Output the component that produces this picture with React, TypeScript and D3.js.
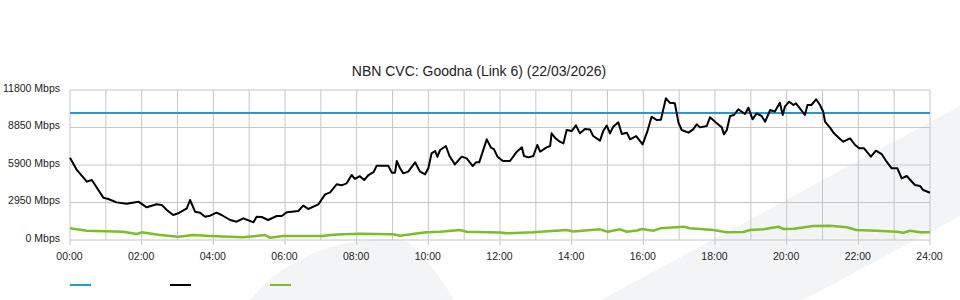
import React from "react";
import * as d3 from "d3";

const TITLE = "NBN CVC: Goodna (Link 6) (22/03/2026)";
const Y_TICKS = [0, 2950, 5900, 8850, 11800];
const X_TICK_HOURS = [0, 2, 4, 6, 8, 10, 12, 14, 16, 18, 20, 22, 24];
const CAPACITY_MBPS = 10000;

// Black series: hours, Mbps
const trafficHours = [
  0.0, 0.19, 0.47, 0.61, 0.93, 1.07, 1.3, 1.58, 1.91, 2.14, 2.42, 2.56, 2.7, 2.88, 3.02, 3.26, 3.35, 3.49, 3.63, 3.77,
  3.91, 4.09, 4.23, 4.47, 4.65, 4.84, 5.12, 5.21, 5.35, 5.53, 5.77, 5.91, 6.05, 6.19, 6.37, 6.51, 6.65, 6.93, 7.12, 7.26,
  7.44, 7.58, 7.72, 7.86, 7.95, 8.09, 8.21, 8.33, 8.47, 8.56, 8.88, 8.98, 9.07, 9.12, 9.21, 9.3, 9.44, 9.63, 9.77, 9.91,
  10.0, 10.09, 10.19, 10.25, 10.33, 10.49, 10.59, 10.74, 10.93, 11.07, 11.24, 11.33, 11.42, 11.63, 11.75, 11.83, 11.93, 12.08, 12.28, 12.47,
  12.61, 12.67, 12.79, 12.93, 13.04, 13.12, 13.3, 13.4, 13.44, 13.55, 13.67, 13.77, 13.86, 14.0, 14.12, 14.23, 14.37, 14.51, 14.6, 14.79,
  14.88, 14.98, 15.07, 15.16, 15.3, 15.4, 15.54, 15.63, 15.8, 15.98, 16.11, 16.23, 16.37, 16.49, 16.63, 16.74, 16.88, 16.98, 17.07, 17.26,
  17.39, 17.49, 17.58, 17.77, 17.86, 18.05, 18.19, 18.25, 18.33, 18.42, 18.53, 18.65, 18.74, 18.84, 18.93, 19.05, 19.16, 19.3, 19.4, 19.54,
  19.67, 19.81, 19.89, 19.95, 20.07, 20.19, 20.26, 20.39, 20.51, 20.58, 20.69, 20.82, 20.93, 21.02, 21.07, 21.21, 21.32, 21.49, 21.58, 21.77,
  21.91, 22.03, 22.16, 22.35, 22.49, 22.65, 22.79, 22.93, 23.09, 23.21, 23.35, 23.58, 23.72, 23.81, 24.0,
];
const trafficMbps = [
  6470, 5510, 4590, 4720, 3330, 3225, 2960, 2860, 3015, 2570, 2810, 2760, 2360, 1967, 2100, 2490, 3147, 2230, 2150, 1836,
  1914, 2150, 1967, 1573, 1443, 1704, 1390, 1836, 1810, 1573, 1888, 1888, 2180, 2230, 2281, 2700, 2438, 2805, 3592, 3750,
  4378, 4300, 4457, 5113, 4800, 5020, 4720, 5113, 5330, 5848, 5848, 5297, 5297, 6215, 5640, 5245, 5375, 6110, 5375, 5165,
  5640, 6817, 7000, 6550, 7080, 7394, 6608, 5952, 6555, 6425, 5820, 6110, 6110, 7918, 7260, 7150, 6555, 6215, 6215, 6946,
  7290, 6610, 6500, 6610, 7473, 6946, 7290, 7394, 8390, 8000, 7733, 7600, 8653, 8570, 9020, 8390, 8730, 8700, 8180, 7813,
  8570, 8995, 8390, 8916, 9257, 8340, 8443, 7918, 8180, 7525, 8520, 9700, 9440, 9460, 11146, 10800, 10750, 9230, 8653, 8443,
  8700, 9100, 8860, 8967, 9650, 9178, 8860, 8312, 8653, 9755, 9833, 10283, 10100, 9912, 10407, 9494, 9965, 9755, 9309, 10227,
  10100, 10800, 9833, 10490, 10880, 10620, 10750, 10283, 9833, 10620, 10620, 11068, 10620, 10093, 9309, 8836, 8390, 7945, 7735, 8000,
  7473, 7210, 7210, 6555, 7026, 6760, 6160, 5640, 5640, 4850, 5035, 4327, 4250, 3933, 3720,
];

// Green series: hours, Mbps
const greenHours = [
  0.0, 0.47, 1.48, 1.86, 2.0, 2.51, 3.02, 3.44, 3.91, 4.83, 5.44, 5.58, 5.94, 7.06, 7.26, 7.62, 8.09, 9.02, 9.21, 9.77,
  9.95, 10.33, 10.88, 11.07, 12.0, 12.19, 12.92, 13.86, 14.05, 14.79, 15.01, 15.35, 15.54, 15.82, 15.95, 16.28, 16.47, 17.12, 17.3, 17.58,
  17.95, 18.33, 18.79, 18.98, 19.35, 19.77, 19.91, 20.19, 20.74, 21.21, 21.68, 21.95, 22.51, 23.07, 23.26, 23.44, 23.72, 24.0,
];
const greenMbps = [
  920, 730, 650, 470, 605, 393, 260, 393, 315, 210, 393, 180, 315, 315, 393, 450, 490, 450, 340, 550,
  605, 650, 787, 645, 590, 527, 605, 787, 670, 840, 650, 840, 650, 750, 865, 730, 920, 1050, 920, 865,
  787, 605, 630, 787, 840, 1050, 865, 890, 1100, 1127, 1000, 787, 730, 650, 575, 730, 605, 605,
];

const BLUE = "#1e9bd7";
const GREEN = "#7dbd2c";
const GRID = "#c6c6c6";
const FONT = "'Liberation Sans', Arial, sans-serif";

export default function App() {
  const W = 960;
  const H = 300;
  const x = d3.scaleLinear().domain([0, 24]).range([70, 930]);
  const y = d3.scaleLinear().domain([0, 11800]).range([240, 90]);
  const line = d3
    .line<[number, number]>()
    .x((d) => x(d[0]))
    .y((d) => y(d[1]));
  const black = trafficHours.map((h, i) => [h, trafficMbps[i]] as [number, number]);
  const green = greenHours.map((h, i) => [h, greenMbps[i]] as [number, number]);
  const hours = d3.range(0, 25);
  const fmt = (h: number) => `${String(h).padStart(2, "0")}:00`;

  return (
    <svg
      width={W}
      height={H}
      style={{ position: "absolute", left: 0, top: 0, display: "block" }}
      fontFamily={FONT}
    >
      <rect width={W} height={H} fill="#ffffff" />
      {/* watermark shapes */}
      <path
        d="M250,300 C275,270 310,248 360,241 C385,238 400,239 408,242 C425,258 442,278 454,300 Z"
        fill="#f3f4f6"
      />
      <path d="M601,300 L960,106 L960,216 L803,300 Z" fill="#f3f4f6" />

      {/* grid */}
      {hours.map((h) => (
        <line key={"v" + h} x1={x(h)} x2={x(h)} y1={y(11800)} y2={y(0)} stroke={GRID} strokeWidth={1} />
      ))}
      {Y_TICKS.map((v) => (
        <line key={"h" + v} x1={x(0)} x2={x(24)} y1={y(v)} y2={y(v)} stroke={GRID} strokeWidth={1} />
      ))}
      {X_TICK_HOURS.map((h) => (
        <line key={"t" + h} x1={x(h)} x2={x(h)} y1={y(0)} y2={y(0) + 5} stroke={GRID} strokeWidth={1} />
      ))}

      {/* title */}
      <text x={479} y={76} textAnchor="middle" fontSize={14} fill="#222">
        {TITLE}
      </text>

      {/* y labels */}
      {Y_TICKS.map((v) => (
        <text key={"yl" + v} x={60} y={y(v) + 1.8} textAnchor="end" fontSize={10.5} fill="#222">
          {`${v} Mbps`}
        </text>
      ))}
      {/* x labels */}
      {X_TICK_HOURS.map((h) => (
        <text key={"xl" + h} x={x(h) - 0.5} y={259.5} textAnchor="middle" fontSize={10.5} fill="#222">
          {fmt(h)}
        </text>
      ))}

      {/* series */}
      <line x1={x(0)} x2={x(24)} y1={y(CAPACITY_MBPS)} y2={y(CAPACITY_MBPS)} stroke={BLUE} strokeWidth={2} />
      <path d={line(green) ?? ""} fill="none" stroke={GREEN} strokeWidth={2.5} strokeLinejoin="round" />
      <path d={line(black) ?? ""} fill="none" stroke="#000" strokeWidth={2} strokeLinejoin="round" />

      {/* legend */}
      <line x1={70} x2={91} y1={285} y2={285} stroke={BLUE} strokeWidth={2} />
      <line x1={170} x2={191} y1={285} y2={285} stroke="#000" strokeWidth={2} />
      <line x1={270} x2={291} y1={285} y2={285} stroke={GREEN} strokeWidth={2} />
    </svg>
  );
}
